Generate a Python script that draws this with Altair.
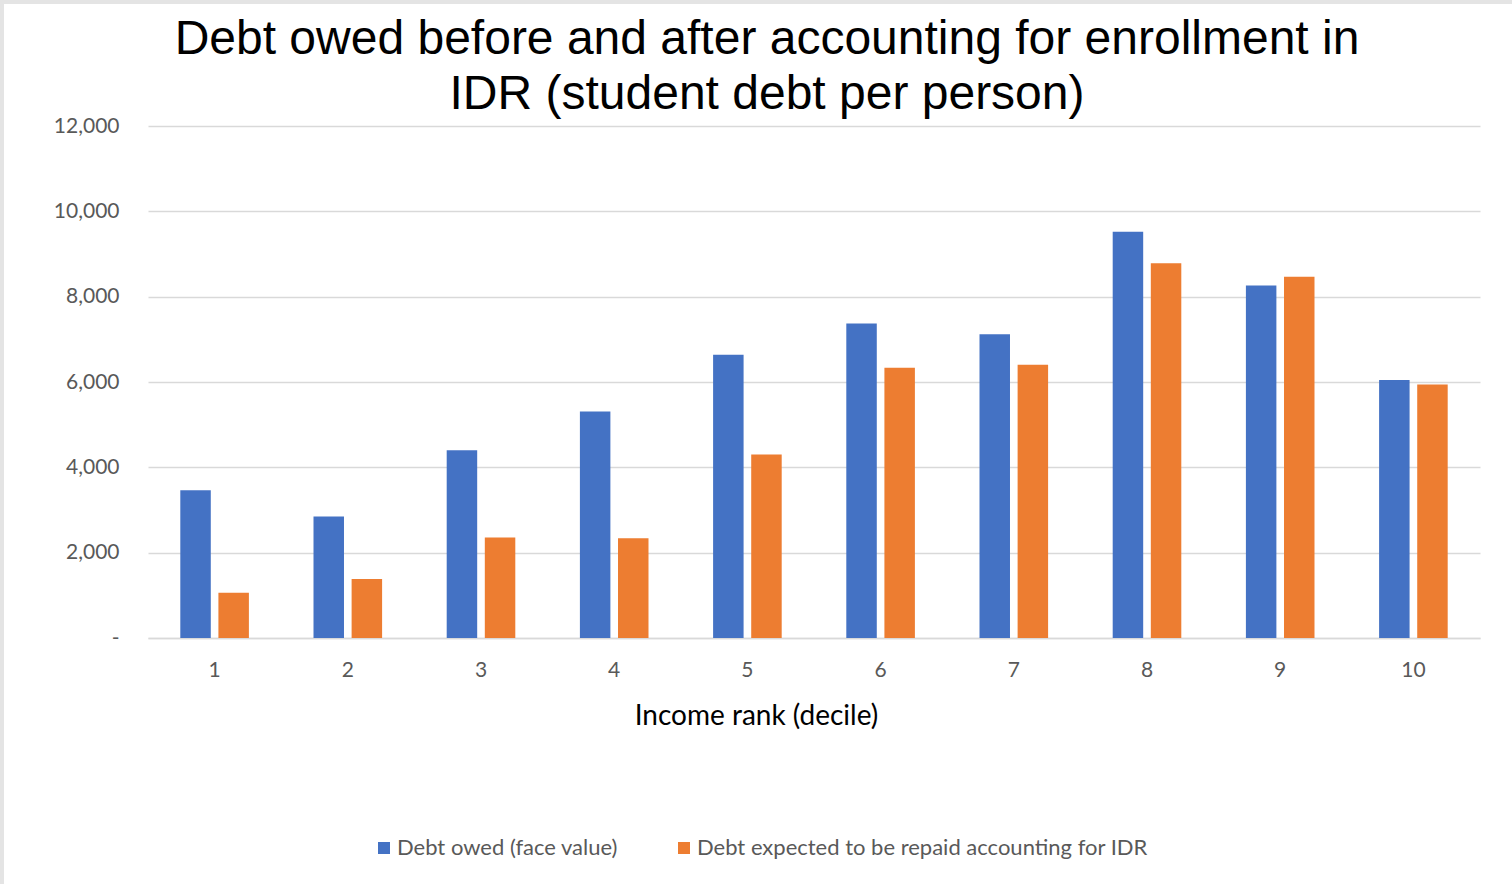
import altair as alt
import pandas as pd

# Student debt per person by income decile
deciles = [str(i) for i in range(1, 11)]
face_value = [3460, 2850, 4400, 5310, 6640, 7370, 7120, 9520, 8260, 6045]
repaid_idr = [1060, 1385, 2355, 2340, 4300, 6335, 6405, 8785, 8465, 5940]

series_names = [
    "Debt owed (face value)",
    "Debt expected to be repaid accounting for IDR",
]
series_colors = ["#4472C4", "#ED7D31"]
y_ticks = [0, 2000, 4000, 6000, 8000, 10000, 12000]

title_lines = [
    "Debt owed before and after accounting for enrollment in",
    "IDR (student debt per person)",
]
x_title = "Income rank (decile)"

rows = []
for d, a, b in zip(deciles, face_value, repaid_idr):
    rows.append({"decile": d, "series": series_names[0], "debt": a})
    rows.append({"decile": d, "series": series_names[1], "debt": b})
df = pd.DataFrame(rows)

W, H = 1332, 512
PAD = {"left": 148, "top": 126, "right": 32, "bottom": 246}
TEXT_FONT = "Lato"
LABEL_GRAY = "#595959"

bars = (
    alt.Chart(df)
    .mark_bar()
    .encode(
        x=alt.X(
            "decile:N",
            sort=deciles,
            scale=alt.Scale(paddingInner=0.485, paddingOuter=0.2425),
            axis=alt.Axis(
                title=x_title,
                labelAngle=0,
                labelPadding=21,
                titlePadding=22,
                titleX=608,
                titleAnchor="middle",
                titleAlign="center",
            ),
        ),
        xOffset=alt.XOffset(
            "series:N",
            sort=series_names,
            scale=alt.Scale(paddingInner=0.2, paddingOuter=0),
        ),
        y=alt.Y(
            "debt:Q",
            scale=alt.Scale(domain=[0, 12000], nice=False),
            axis=alt.Axis(
                title=None,
                values=y_ticks,
                labelExpr="datum.value == 0 ? '-\u00a0\u00a0\u00a0' : format(datum.value, ',')",
                labelPadding=29,
                domain=False,
                ticks=False,
                grid=True,
                gridColor="#d9d9d9",
                gridWidth=1.3,
            ),
        ),
        color=alt.Color(
            "series:N",
            scale=alt.Scale(domain=series_names, range=series_colors),
            legend=alt.Legend(
                title=None,
                orient="none",
                legendX=225,
                legendY=711,
                direction="horizontal",
                symbolType="square",
                symbolSize=144,
                symbolStrokeWidth=0,
                labelFont=TEXT_FONT,
                labelFontSize=22,
                labelColor=LABEL_GRAY,
                labelOffset=2,
                labelLimit=800,
                columnPadding=54,
                padding=0,
            ),
        ),
    )
)

# thin grey frame along the top and left edges of the canvas
frame_src = pd.DataFrame({"k": [0]})
frame_left = alt.Chart(frame_src).mark_rect(color="#e4e4e4").encode(
    x=alt.value(-PAD["left"]), x2=alt.value(-PAD["left"] + 4),
    y=alt.value(-PAD["top"]), y2=alt.value(H + PAD["bottom"]),
)
frame_top = alt.Chart(frame_src).mark_rect(color="#e4e4e4").encode(
    x=alt.value(-PAD["left"]), x2=alt.value(W + PAD["right"]),
    y=alt.value(-PAD["top"]), y2=alt.value(-PAD["top"] + 4),
)

chart = (
    alt.layer(bars, frame_left, frame_top)
    .properties(
        width=W,
        height=H,
        autosize=alt.AutoSizeParams(type="none"),
        padding=PAD,
        background="white",
        title=alt.TitleParams(
            text=title_lines,
            font="Liberation Sans",
            fontSize=48,
            fontWeight="normal",
            color="black",
            lineHeight=55,
            anchor="middle",
            baseline="bottom",
            dx=-47,
            offset=-167,
        ),
    )
    .configure_view(stroke=None)
    .configure_axis(
        labelFont=TEXT_FONT,
        labelFontSize=21,
        labelColor=LABEL_GRAY,
        titleFont=TEXT_FONT,
        titleFontSize=28,
        titleFontWeight="normal",
        titleColor="black",
    )
    .configure_axisX(
        domainColor="#d9d9d9",
        domainWidth=1.5,
        ticks=False,
        grid=False,
    )
)

chart.save("out.html", embed_options={"renderer": "svg", "actions": False})
